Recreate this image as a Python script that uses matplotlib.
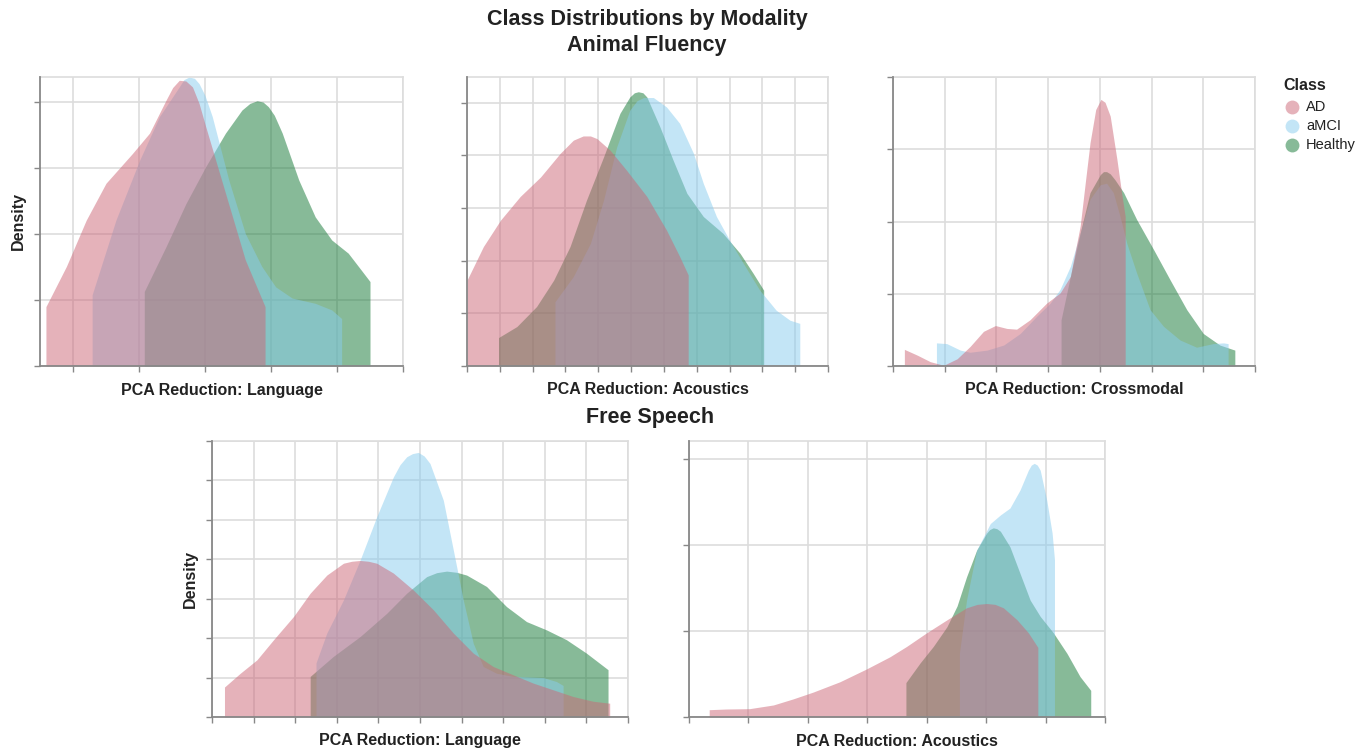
import numpy as np
import matplotlib.pyplot as plt

plt.rcParams['font.family'] = ['Liberation Sans', 'DejaVu Sans']

# ---------------------------------------------------------
# DATA (density curves, arbitrary units)

classes = ['AD', 'aMCI', 'Healthy']
colors = {'AD': '#CC6677', 'aMCI': '#88CCEE', 'Healthy': '#117733'}

# Animal Fluency - Language
af_lang_ad_x = [-2.41, -2.10, -1.80, -1.50, -1.10, -0.84, -0.59, -0.49, -0.39, -0.29, -0.19, -0.09, 0.01, 0.31, 0.61, 0.91]
af_lang_ad_y = [0.90, 1.51, 2.21, 2.77, 3.22, 3.53, 4.03, 4.22, 4.33, 4.32, 4.23, 3.98, 3.63, 2.62, 1.61, 0.90]
af_lang_mci_x = [-1.71, -1.35, -0.99, -0.69, -0.39, -0.32, -0.24, -0.16, -0.09, 0.0, 0.11, 0.36, 0.61, 0.86, 1.07, 1.32, 1.67, 1.92, 2.07]
af_lang_mci_y = [1.08, 2.21, 3.12, 3.78, 4.23, 4.34, 4.38, 4.36, 4.28, 4.10, 3.78, 2.82, 2.01, 1.51, 1.20, 1.03, 0.95, 0.85, 0.72]
af_lang_hc_x = [-0.92, -0.59, -0.29, 0.01, 0.31, 0.56, 0.68, 0.79, 0.88, 0.96, 1.05, 1.17, 1.42, 1.67, 1.92, 2.17, 2.37, 2.50]
af_lang_hc_y = [1.13, 1.81, 2.46, 3.02, 3.53, 3.88, 3.98, 4.02, 4.00, 3.93, 3.80, 3.53, 2.82, 2.26, 1.91, 1.71, 1.45, 1.28]

# Animal Fluency - Acoustics
af_ac_ad_x = [-3.0, -2.75, -2.49, -2.19, -1.88, -1.58, -1.38, -1.23, -1.12, -1.02, -0.82, -0.57, -0.26, 0.04, 0.24, 0.37]
af_ac_ad_y = [1.63, 2.27, 2.77, 3.22, 3.59, 4.04, 4.29, 4.37, 4.37, 4.32, 4.10, 3.72, 3.22, 2.58, 2.08, 1.73]
af_ac_mci_x = [-1.66, -1.38, -1.12, -0.92, -0.72, -0.52, -0.41, -0.31, -0.16, 0.04, 0.24, 0.45, 0.60, 0.80, 1.00, 1.21, 1.46, 1.71, 1.92, 2.07]
af_ac_mci_y = [1.22, 1.70, 2.33, 3.15, 4.16, 4.86, 5.04, 5.10, 5.10, 4.92, 4.61, 4.04, 3.47, 2.84, 2.39, 1.95, 1.44, 1.06, 0.87, 0.81]
af_ac_hc_x = [-2.52, -2.24, -1.94, -1.68, -1.43, -1.18, -0.92, -0.67, -0.52, -0.45, -0.39, -0.32, -0.26, -0.06, 0.14, 0.35, 0.60, 0.90, 1.16, 1.36, 1.52]
af_ac_hc_y = [0.54, 0.75, 1.13, 1.63, 2.27, 3.15, 3.97, 4.80, 5.11, 5.19, 5.21, 5.19, 5.11, 4.54, 3.91, 3.28, 2.84, 2.52, 2.14, 1.76, 1.44]

# Animal Fluency - Crossmodal
af_cm_ad_x = [-3.78, -3.53, -3.28, -3.02, -2.76, -2.51, -2.25, -2.02, -1.80, -1.61, -1.35, -1.03, -0.77, -0.57, -0.38, -0.28, -0.19, -0.08, 0.02, 0.10, 0.20, 0.33, 0.42, 0.49]
af_cm_ad_y = [0.23, 0.15, 0.06, 0.01, 0.10, 0.27, 0.48, 0.56, 0.52, 0.51, 0.64, 0.87, 1.01, 1.24, 1.94, 2.55, 3.09, 3.55, 3.69, 3.65, 3.46, 2.86, 2.40, 2.07]
af_cm_mci_x = [-3.16, -2.96, -2.70, -2.51, -2.18, -1.86, -1.54, -1.22, -0.96, -0.77, -0.57, -0.38, -0.19, 0.01, 0.13, 0.26, 0.39, 0.52, 0.71, 0.97, 1.23, 1.55, 1.87, 2.19, 2.39, 2.48]
af_cm_mci_y = [0.32, 0.31, 0.22, 0.19, 0.22, 0.29, 0.45, 0.69, 0.87, 1.06, 1.38, 1.84, 2.31, 2.51, 2.53, 2.40, 2.07, 1.70, 1.29, 0.78, 0.55, 0.36, 0.26, 0.31, 0.32, 0.31]
af_cm_hc_x = [-0.75, -0.57, -0.38, -0.19, 0.01, 0.07, 0.13, 0.20, 0.29, 0.46, 0.71, 1.04, 1.36, 1.68, 2.00, 2.32, 2.61]
af_cm_hc_y = [0.64, 1.24, 1.84, 2.40, 2.65, 2.69, 2.69, 2.66, 2.58, 2.40, 2.03, 1.61, 1.19, 0.78, 0.45, 0.29, 0.22]

# Free Speech - Language
fs_lang_ad_x = [-2.35, -2.16, -1.96, -1.76, -1.52, -1.32, -1.12, -0.92, -0.82, -0.72, -0.62, -0.52, -0.32, -0.08, 0.16, 0.40, 0.64, 0.88, 1.12, 1.36, 1.60, 1.84, 2.08, 2.28]
fs_lang_ad_y = [0.76, 1.11, 1.45, 1.96, 2.55, 3.14, 3.60, 3.90, 3.95, 3.97, 3.95, 3.90, 3.65, 3.22, 2.72, 2.13, 1.62, 1.28, 1.07, 0.86, 0.69, 0.52, 0.40, 0.35]
fs_lang_mci_x = [-1.25, -1.12, -0.92, -0.72, -0.52, -0.32, -0.24, -0.16, -0.09, -0.02, 0.05, 0.12, 0.28, 0.40, 0.52, 0.64, 0.76, 0.92, 1.12, 1.48, 1.64, 1.72]
fs_lang_mci_y = [1.37, 2.13, 2.97, 3.98, 5.08, 6.09, 6.40, 6.60, 6.68, 6.71, 6.62, 6.43, 5.50, 4.24, 2.97, 1.87, 1.28, 1.11, 1.03, 1.00, 0.90, 0.80]
fs_lang_hc_x = [-1.32, -1.04, -0.72, -0.40, -0.16, 0.08, 0.20, 0.32, 0.44, 0.56, 0.80, 1.04, 1.28, 1.52, 1.76, 2.00, 2.26]
fs_lang_hc_y = [1.03, 1.54, 2.04, 2.63, 3.14, 3.56, 3.66, 3.70, 3.67, 3.60, 3.31, 2.80, 2.42, 2.21, 1.96, 1.62, 1.20]

# Free Speech - Acoustics
fs_ac_ad_x = [-4.66, -4.37, -3.98, -3.58, -3.25, -2.91, -2.46, -2.01, -1.62, -1.34, -1.00, -0.66, -0.33, -0.15, 0.01, 0.15, 0.29, 0.52, 0.71, 0.87]
fs_ac_ad_y = [0.085, 0.093, 0.097, 0.14, 0.21, 0.29, 0.41, 0.56, 0.70, 0.82, 0.98, 1.13, 1.27, 1.31, 1.32, 1.31, 1.27, 1.13, 0.98, 0.81]
fs_ac_mci_x = [-0.45, -0.33, -0.16, 0.07, 0.24, 0.40, 0.57, 0.71, 0.76, 0.81, 0.86, 0.91, 1.02, 1.11, 1.15]
fs_ac_mci_y = [0.74, 1.36, 1.94, 2.25, 2.35, 2.43, 2.64, 2.87, 2.93, 2.95, 2.93, 2.87, 2.52, 2.14, 1.83]
fs_ac_hc_x = [-1.35, -1.11, -0.89, -0.66, -0.49, -0.33, -0.16, 0.01, 0.06, 0.12, 0.18, 0.24, 0.40, 0.57, 0.74, 0.91, 1.13, 1.36, 1.58, 1.76]
fs_ac_hc_y = [0.40, 0.63, 0.82, 1.05, 1.29, 1.63, 1.94, 2.14, 2.18, 2.20, 2.19, 2.16, 1.98, 1.67, 1.36, 1.17, 0.98, 0.74, 0.47, 0.31]


# ---------------------------------------------------------
# PANELS: (curves, x ticks, x domain, y ticks, y top, pixel box, x title, density title?)

W, H = 1370, 750

panels = [
    (
        {'AD': (af_lang_ad_x, af_lang_ad_y), 'aMCI': (af_lang_mci_x, af_lang_mci_y), 'Healthy': (af_lang_hc_x, af_lang_hc_y)},
        np.arange(-2, 3.01, 1), (-2.5, 3.0), np.arange(0, 5), 4.38,
        (40, 77, 403, 366), 'PCA Reduction: Language', True,
    ),
    (
        {'AD': (af_ac_ad_x, af_ac_ad_y), 'aMCI': (af_ac_mci_x, af_ac_mci_y), 'Healthy': (af_ac_hc_x, af_ac_hc_y)},
        np.arange(-3, 2.51, 0.5), (-3.0, 2.5), np.arange(0, 6), 5.49,
        (467, 77, 828, 366), 'PCA Reduction: Acoustics', False,
    ),
    (
        {'AD': (af_cm_ad_x, af_cm_ad_y), 'aMCI': (af_cm_mci_x, af_cm_mci_y), 'Healthy': (af_cm_hc_x, af_cm_hc_y)},
        np.arange(-4, 3.01, 1), (-4.0, 3.0), np.arange(0, 5), 4.0,
        (893, 77, 1255, 366), 'PCA Reduction: Crossmodal', False,
    ),
    (
        {'AD': (fs_lang_ad_x, fs_lang_ad_y), 'aMCI': (fs_lang_mci_x, fs_lang_mci_y), 'Healthy': (fs_lang_hc_x, fs_lang_hc_y)},
        np.arange(-2.5, 2.51, 0.5), (-2.5, 2.5), np.arange(0, 8), 7.0,
        (212, 441, 628, 717), 'PCA Reduction: Language', True,
    ),
    (
        {'AD': (fs_ac_ad_x, fs_ac_ad_y), 'aMCI': (fs_ac_mci_x, fs_ac_mci_y), 'Healthy': (fs_ac_hc_x, fs_ac_hc_y)},
        np.arange(-5, 2.01, 1), (-5.0, 2.0), np.arange(0, 4), 3.21,
        (689, 441, 1105, 717), 'PCA Reduction: Acoustics', False,
    ),
]


def fx(px):
    return px / W


def fy(py):
    return 1 - py / H


fig = plt.figure(figsize=(W / 100, H / 100), dpi=100)

for curves, xt, xdom, yt, ytop, box, xtitle, show_density in panels:
    x0, y0, x1, y1 = box
    ax = fig.add_axes([fx(x0), fy(y1), (x1 - x0) / W, (y1 - y0) / H])

    # healthy first, AD on top (same as the reference)
    for c in ['Healthy', 'aMCI', 'AD']:
        xs, ys = curves[c]
        ax.fill_between(xs, 0, ys, color=colors[c], alpha=0.5, lw=0, zorder=2)

    ax.set_xlim(*xdom)
    ax.set_ylim(0, ytop)
    ax.set_xticks(xt)
    ax.set_yticks(yt)
    ax.grid(True, color='#dddddd', lw=1.2, zorder=0)
    ax.set_axisbelow(True)
    ax.tick_params(direction='out', length=4, width=1, color='#888888',
                   labelbottom=False, labelleft=False)
    for s in ['top', 'right']:
        ax.spines[s].set_color('#dddddd')
        ax.spines[s].set_linewidth(1.2)
    for s in ['left', 'bottom']:
        ax.spines[s].set_color('#888888')
        ax.spines[s].set_linewidth(1.3)
        ax.spines[s].set_zorder(3)

    fig.text(fx((x0 + x1) / 2), fy(y1 + 24), xtitle, ha='center', va='center',
             fontsize=11.5, fontweight='bold', color='#222222')
    if show_density:
        fig.text(fx(x0 - 22), fy((y0 + y1) / 2), 'Density', ha='center', va='center',
                 rotation=90, fontsize=11.5, fontweight='bold', color='#222222')

# titles
fig.text(fx(647), fy(20), 'Class Distributions by Modality', ha='center', va='center',
         fontsize=15.5, fontweight='bold', color='#222222')
fig.text(fx(647), fy(46), 'Animal Fluency', ha='center', va='center',
         fontsize=15.5, fontweight='bold', color='#222222')
fig.text(fx(650), fy(417), 'Free Speech', ha='center', va='center',
         fontsize=15.5, fontweight='bold', color='#222222')

# legend
fig.text(fx(1283), fy(85), 'Class', ha='left', va='center',
         fontsize=11.5, fontweight='bold', color='#222222')
for i, c in enumerate(classes):
    yy = 107 + i * 19
    fig.lines.append(plt.Line2D([fx(1292)], [fy(yy)], marker='o', markersize=10,
                                markerfacecolor=colors[c], markeredgewidth=0, alpha=0.5,
                                linestyle='none', transform=fig.transFigure))
    fig.text(fx(1306), fy(yy), c, ha='left', va='center', fontsize=10.5, color='#222222')

fig.savefig('out.png', dpi=100)
